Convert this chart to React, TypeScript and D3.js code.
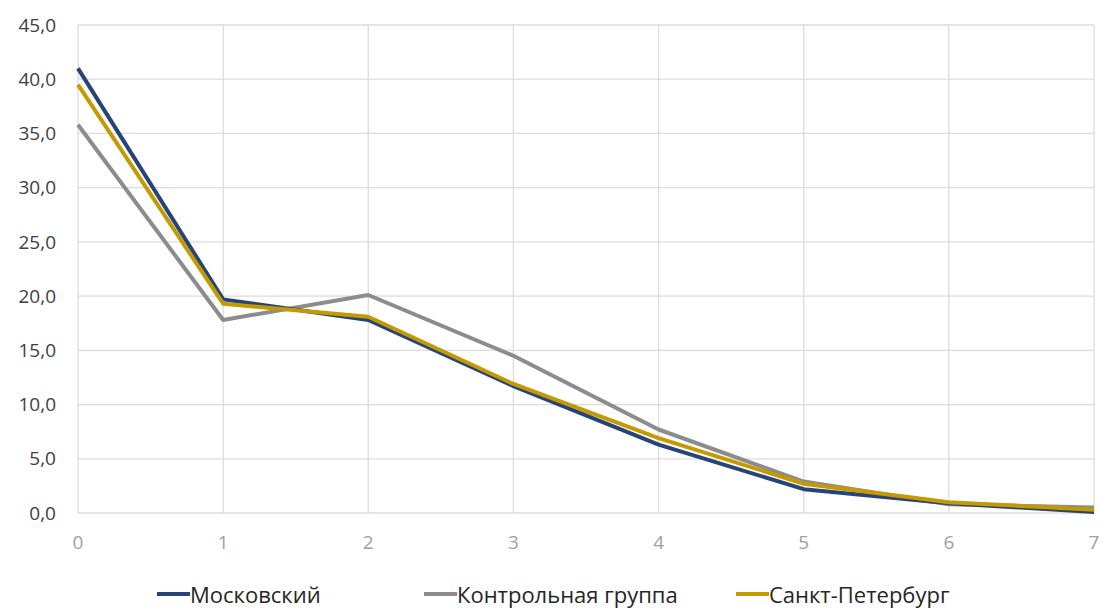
import React from "react";
import * as d3 from "d3";

const categories = [0, 1, 2, 3, 4, 5, 6, 7];
const moscow = [41.0, 19.7, 17.8, 11.7, 6.3, 2.2, 0.9, 0.1];
const control = [35.8, 17.8, 20.1, 14.5, 7.7, 2.9, 0.8, 0.5];
const spb = [39.5, 19.3, 18.1, 11.9, 6.9, 2.7, 1.0, 0.3];
const yTicks = [0, 5, 10, 15, 20, 25, 30, 35, 40, 45];
const seriesNames = ["Московский", "Контрольная группа", "Санкт-Петербург"];
const seriesColors = ["#264478", "#8c8c8c", "#c49a00"];

const W = 1102;
const H = 612;
const FONT = "'Open Sans', 'Noto Sans', sans-serif";

export default function App() {
  const x = d3.scaleLinear().domain([0, 7]).range([78, 1094]);
  const y = d3.scaleLinear().domain([0, 45]).range([513, 25]);
  const line = d3
    .line<number>()
    .x((_, i) => x(categories[i]))
    .y((d) => y(d));
  const series = [moscow, control, spb];
  const legendX = [157, 424, 736];
  const fmt = (v: number) => v.toFixed(1).replace(".", ",");

  return (
    <svg
      width={W}
      height={H}
      style={{ position: "absolute", left: 0, top: 0, background: "#fff" }}
    >
      {yTicks.map((t) => (
        <line key={"gy" + t} x1={x(0)} x2={x(7)} y1={y(t)} y2={y(t)} stroke="#dcdcdc" strokeWidth={1.3} />
      ))}
      {categories.map((c) => (
        <line key={"gx" + c} x1={x(c)} x2={x(c)} y1={y(45)} y2={y(0)} stroke="#dcdcdc" strokeWidth={1.3} />
      ))}
      {yTicks.map((t) => (
        <text
          key={"ty" + t}
          x={56}
          y={y(t)}
          dy="0.35em"
          textAnchor="end"
          fontFamily={FONT}
          fontSize={19}
          fill="#404040"
        >
          {fmt(t)}
        </text>
      ))}
      {categories.map((c) => (
        <text
          key={"tx" + c}
          x={x(c)}
          y={542}
          dy="0.35em"
          textAnchor="middle"
          fontFamily={FONT}
          fontSize={19}
          fill="#a0a0a0"
        >
          {c}
        </text>
      ))}
      {[control, moscow, spb].map((s) => {
        const idx = series.indexOf(s);
        return (
          <path
            key={"s" + idx}
            d={line(s) || ""}
            fill="none"
            stroke={seriesColors[idx]}
            strokeWidth={4}
            strokeLinejoin="round"
          />
        );
      })}
      {seriesNames.map((n, i) => (
        <g key={"lg" + i}>
          <line x1={legendX[i]} x2={legendX[i] + 33} y1={594} y2={594} stroke={seriesColors[i]} strokeWidth={4} />
          <text x={legendX[i] + 33} y={595} dy="0.35em" fontFamily={FONT} fontSize={22} fill="#262626">
            {n}
          </text>
        </g>
      ))}
    </svg>
  );
}
